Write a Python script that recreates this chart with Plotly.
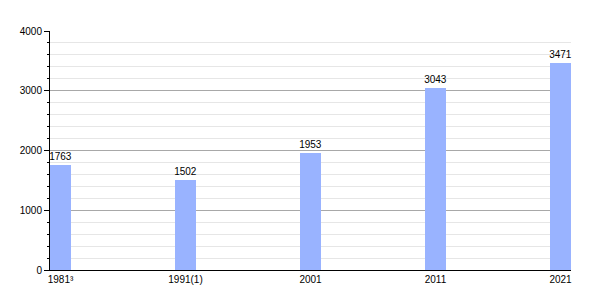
import plotly.graph_objects as go

categories = ["1981³", "1991(1)", "2001", "2011", "2021"]
values = [1763, 1502, 1953, 3043, 3471]

W = 0.168
xpos = list(range(len(categories)))

fig = go.Figure(go.Bar(
    x=xpos, y=values, width=W, offset=0,
    marker=dict(color="#99B3FF", line=dict(width=0)),
    text=[str(v) for v in values], textposition="outside",
    textfont=dict(size=10, color="black", family="Liberation Sans, Arial"),
    constraintext="none",
    cliponaxis=False,
))

fig.update_layout(
    width=600, height=300,
    margin=dict(l=50, r=29, t=31, b=30),
    paper_bgcolor="white", plot_bgcolor="white",
    font=dict(family="Liberation Sans, Arial", size=10, color="black"),
    showlegend=False,
    bargap=0,
)
fig.update_xaxes(
    range=[0, len(categories) - 1 + W],
    tickvals=[i + W / 2 for i in xpos], ticktext=categories,
    showgrid=False, zeroline=False, showline=True, linecolor="black", linewidth=1,
    ticks="", tickfont=dict(size=10),
)
fig.update_yaxes(
    range=[0, 4000], dtick=1000, tick0=0,
    showgrid=True, gridcolor="#A8A8A8", gridwidth=1,
    zeroline=False, showline=True, linecolor="black", linewidth=1,
    ticks="outside", ticklen=5, tickcolor="black", tickfont=dict(size=10),
    minor=dict(dtick=200, showgrid=True, gridcolor="#E6E6E6", ticks="outside", ticklen=2, tickcolor="black"),
)

fig.write_html("out.html")
